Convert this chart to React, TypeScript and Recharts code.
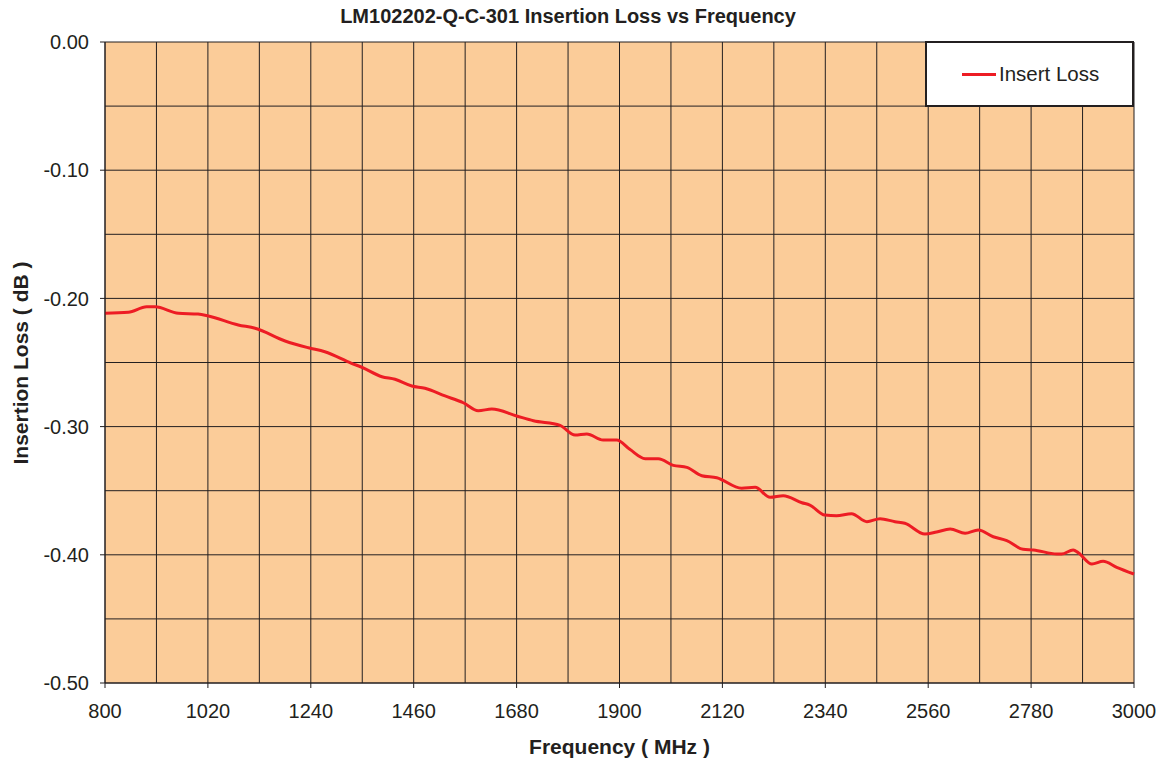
import { LineChart, Line, XAxis, YAxis, CartesianGrid } from 'recharts';

const SERIES_NAME = 'Insert Loss';

const freqMHz = [
  800, 850, 889, 907, 957, 999, 1021, 1085, 1121, 1185, 1235, 1270, 1327, 1349,
  1392, 1420, 1456, 1484, 1527, 1566, 1598, 1627, 1680, 1716, 1773, 1805, 1830,
  1865, 1894, 1922, 1955, 1983, 2015, 2044, 2076, 2108, 2161, 2190, 2222, 2250,
  2290, 2307, 2339, 2364, 2396, 2429, 2457, 2489, 2510, 2553, 2578, 2607, 2639,
  2667, 2699, 2728, 2763, 2785, 2835, 2845, 2870, 2881, 2910, 2934, 2963, 3000,
];

const lossDb = [
  -0.2116, -0.2108, -0.2065, -0.2065, -0.2116, -0.2122, -0.2137, -0.2207, -0.2233,
  -0.2332, -0.2385, -0.2416, -0.2506, -0.2537, -0.2611, -0.2631, -0.2683, -0.2701,
  -0.2761, -0.2814, -0.2876, -0.2863, -0.2917, -0.2954, -0.299, -0.3066, -0.3058,
  -0.3105, -0.3105, -0.3177, -0.325, -0.325, -0.3302, -0.3318, -0.3383, -0.3399,
  -0.3481, -0.3474, -0.3552, -0.3539, -0.3594, -0.3612, -0.369, -0.3695, -0.3679,
  -0.3742, -0.3718, -0.3742, -0.3754, -0.3838, -0.3822, -0.3799, -0.3832, -0.3807,
  -0.3859, -0.389, -0.3957, -0.3962, -0.3994, -0.3994, -0.3962, -0.3984, -0.4072,
  -0.4051, -0.4098, -0.415,
];

// grid every 110 MHz / 0.05 dB, labels every 220 MHz / 0.1 dB
const xTicks = [
  800, 910, 1020, 1130, 1240, 1350, 1460, 1570, 1680, 1790, 1900, 2010, 2120,
  2230, 2340, 2450, 2560, 2670, 2780, 2890, 3000,
];
const yTicks = [-0.5, -0.45, -0.4, -0.35, -0.3, -0.25, -0.2, -0.15, -0.1, -0.05, 0];

const data = freqMHz.map((f, i) => ({ freq: f, loss: lossDb[i] }));

const FONT = '"Liberation Sans", Arial, sans-serif';
const INK = '#231f20';

function YTick(props: any) {
  const { x, y, payload } = props;
  if (Math.round(payload.value * 100) % 10 !== 0) return null;
  return (
    <g>
      <line x1={x + 11} x2={x + 16} y1={y} y2={y} stroke={INK} />
      <text x={x} y={y} dy="0.36em" textAnchor="end" fill={INK} fontSize={20} fontFamily={FONT}>
        {payload.value.toFixed(2)}
      </text>
    </g>
  );
}

function XTick(props: any) {
  const { x, y, payload } = props;
  if ((payload.value - 800) % 220 !== 0) return null;
  return (
    <g>
      <line x1={x} x2={x} y1={y - 17} y2={y - 12} stroke={INK} />
      <text x={x} y={y + 4} dy="0.71em" textAnchor="middle" fill={INK} fontSize={20} fontFamily={FONT}>
        {payload.value}
      </text>
    </g>
  );
}

export default function App() {
  return (
    <div style={{ position: 'absolute', left: 0, top: 0, width: 1163, height: 762, background: '#fff', fontFamily: FONT }}>
      <div style={{ position: 'absolute', left: 0, width: 1136, top: 5, textAlign: 'center', fontSize: 20, fontWeight: 'bold', color: INK }}>
        LM102202-Q-C-301 Insertion Loss vs Frequency
      </div>
      <LineChart width={1163} height={762} data={data} margin={{ top: 42, right: 29, bottom: 0, left: 0 }}>
        <CartesianGrid stroke={INK} strokeWidth={1} fill="#fbcc99" fillOpacity={1} />
        <XAxis
          dataKey="freq"
          type="number"
          domain={[800, 3000]}
          ticks={xTicks}
          height={79}
          tickSize={5}
          tickMargin={12}
          tickLine={false}
          axisLine={{ stroke: INK }}
          tick={<XTick />}
          interval={0}
        />
        <YAxis
          type="number"
          domain={[-0.5, 0]}
          ticks={yTicks}
          width={105}
          tickSize={5}
          tickMargin={11}
          tickLine={false}
          axisLine={{ stroke: INK }}
          tick={<YTick />}
          interval={0}
        />
        <Line
          type="monotone"
          dataKey="loss"
          name={SERIES_NAME}
          stroke="#ed1c24"
          strokeWidth={3}
          dot={false}
          isAnimationActive={false}
        />
      </LineChart>
      <div style={{ position: 'absolute', left: 0, top: 0, width: 40, height: 762, display: 'flex', alignItems: 'center', justifyContent: 'center' }}>
        <div style={{ transform: 'rotate(-90deg)', whiteSpace: 'nowrap', fontSize: 21, fontWeight: 'bold', color: INK, marginTop: -36 }}>
          Insertion Loss ( dB )
        </div>
      </div>
      <div style={{ position: 'absolute', left: 105, width: 1029, top: 735, textAlign: 'center', fontSize: 21, fontWeight: 'bold', color: INK }}>
        Frequency ( MHz )
      </div>
      <div
        style={{
          position: 'absolute',
          left: 925,
          top: 41,
          width: 205,
          height: 62,
          background: '#fff',
          border: `2px solid ${INK}`,
          display: 'flex',
          alignItems: 'center',
        }}
      >
        <div style={{ width: 34, height: 3, background: '#ed1c24', marginLeft: 35, marginRight: 3 }} />
        <span style={{ fontSize: 20.5, color: INK }}>{SERIES_NAME}</span>
      </div>
    </div>
  );
}
